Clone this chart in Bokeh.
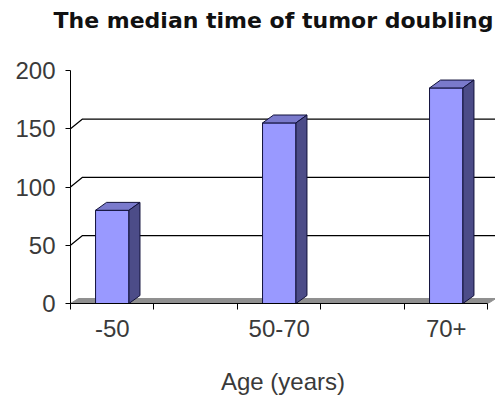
from bokeh.plotting import figure
from bokeh.models import Range1d, FixedTicker, LinearAxis, Title
from bokeh.embed import file_html
from bokeh.resources import INLINE

# Median tumour doubling time per age group
age_groups = ["-50", "50-70", "70+"]
doubling_days = [80, 155, 185]
value_ticks = [0, 50, 100, 150, 200]
gridline_values = [50, 100, 150]

# Five category slots on the axis; the groups occupy slots 1, 3 and 5
slot_centers = [0.5, 2.5, 4.5]
slot_edges = [0, 1, 2, 3, 4, 5]

X_END = 5.09
BAR_W = 0.4
# depth offsets for the pseudo-3D look (data units)
BAR_DX, BAR_DY = 0.132, 6.8
WALL_DX, WALL_DY = 0.144, 8.3
FLOOR_DX, FLOOR_DY = 0.096, 4.3

FRONT = "#9999FF"
TOP = "#7A7ACC"
SIDE = "#4C4C88"
EDGE = "#10103A"
TEXT = "#3A3A3A"

p = figure(width=495, height=397, output_backend="svg", toolbar_location=None,
           title=None,
           x_range=Range1d(0, X_END), y_range=Range1d(0, 200),
           x_axis_type=None, y_axis_type=None,
           min_border_left=70, min_border_right=0,
           min_border_top=70, min_border_bottom=93)
p.outline_line_color = None
p.background_fill_color = "white"
p.border_fill_color = "white"

# blank spacer between the frame and the title
p.add_layout(Title(text=" ", text_font_size="22px", standoff=5), "above")
p.add_layout(Title(text="The median time of tumor doubling", align="left",
                   offset=-17, standoff=11,
                   text_font="DejaVu Sans", text_font_style="bold",
                   text_font_size="22px", text_color="#111111"), "above")

# floor
p.patch([0, 5, 5 + FLOOR_DX, FLOOR_DX], [0, 0, FLOOR_DY, FLOOR_DY],
        fill_color="#8F8F8F", line_color="#8F8F8F", line_width=1)

# back-wall gridlines with the short diagonal from the axis tick
grid_xs = [[0, WALL_DX, X_END + 0.1] for v in gridline_values]
grid_ys = [[v, v + WALL_DY, v + WALL_DY] for v in gridline_values]
p.multi_line(grid_xs, grid_ys, line_color="#000000", line_width=1.2)

# bars: front face, top face and right side face
lefts = [c - BAR_W / 2 for c in slot_centers]
rights = [c + BAR_W / 2 for c in slot_centers]
p.quad(left=lefts, right=rights, bottom=0, top=doubling_days,
       fill_color=FRONT, line_color=EDGE, line_width=1)
top_xs = [[l, l + BAR_DX, r + BAR_DX, r] for l, r in zip(lefts, rights)]
top_ys = [[v, v + BAR_DY, v + BAR_DY, v] for v in doubling_days]
p.patches(top_xs, top_ys, fill_color=TOP, line_color=EDGE, line_width=1)
side_xs = [[r, r + BAR_DX, r + BAR_DX, r] for r in rights]
side_ys = [[0, BAR_DY, v + BAR_DY, v] for v in doubling_days]
p.patches(side_xs, side_ys, fill_color=SIDE, line_color=EDGE, line_width=1)

# value axis
yaxis = LinearAxis(ticker=FixedTicker(ticks=value_ticks), bounds=(0, 200))
yaxis.axis_line_color = "black"
yaxis.major_tick_line_color = "black"
yaxis.major_tick_out = 5
yaxis.major_tick_in = 0
yaxis.minor_tick_line_color = None
yaxis.major_label_standoff = 10
yaxis.major_label_text_font = "Liberation Sans"
yaxis.major_label_text_font_size = "24px"
yaxis.major_label_text_color = TEXT
p.add_layout(yaxis, "left")

# category axis: labels at slot centres, tick marks at slot edges
xaxis = LinearAxis(ticker=FixedTicker(ticks=slot_centers, minor_ticks=slot_edges),
                   bounds=(0, 5))
xaxis.major_label_overrides = dict(zip(slot_centers, age_groups))
xaxis.axis_line_color = "black"
xaxis.major_tick_line_color = None
xaxis.major_tick_out = 0
xaxis.major_tick_in = 0
xaxis.minor_tick_line_color = "black"
xaxis.minor_tick_out = 6
xaxis.minor_tick_in = 0
xaxis.major_label_standoff = 10
xaxis.major_label_text_font = "Liberation Sans"
xaxis.major_label_text_font_size = "24px"
xaxis.major_label_text_color = TEXT
xaxis.axis_label = "Age (years)"
xaxis.axis_label_standoff = 28
xaxis.axis_label_text_font = "Liberation Sans"
xaxis.axis_label_text_font_style = "normal"
xaxis.axis_label_text_font_size = "24px"
xaxis.axis_label_text_color = TEXT
p.add_layout(xaxis, "below")

p.xgrid.visible = False
p.ygrid.visible = False

open("out.html", "w").write(file_html(p, INLINE))
